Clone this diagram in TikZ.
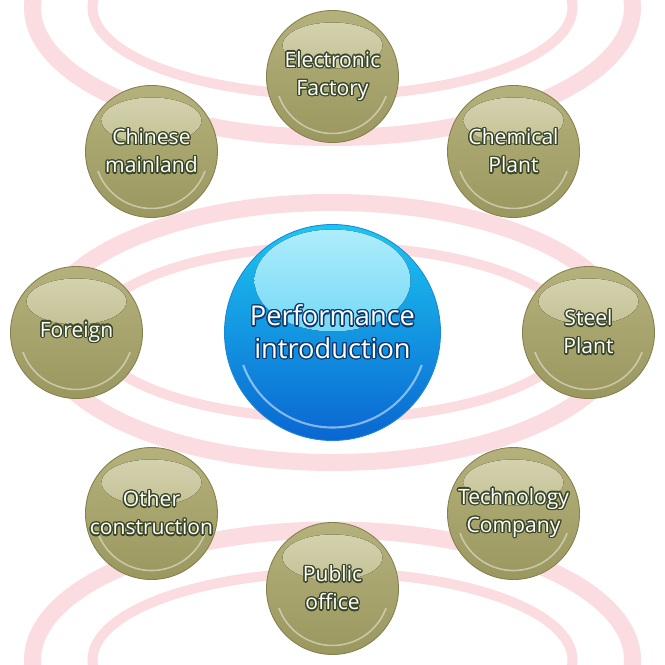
\documentclass[tikz,border=0pt]{standalone}
\usepackage{fontspec}
\setmainfont{Open Sans}
\usepackage{contour}
\contourlength{0.75pt}

\definecolor{olivetop}{HTML}{B4B17C}
\definecolor{olivebot}{HTML}{9A975F}
\definecolor{olivehi}{HTML}{D8D6B4}
\definecolor{olivemid}{HTML}{ABA871}
\definecolor{oliveline}{HTML}{84814D}
\definecolor{olivetext}{HTML}{3A4828}
\definecolor{bluetop}{HTML}{1CC6F0}
\definecolor{bluebot}{HTML}{0A66D2}
\definecolor{bluehi}{HTML}{B0EEFC}
\definecolor{bluemid}{HTML}{3AC2EE}
\definecolor{blueline}{HTML}{1A88D8}
\definecolor{bluetext}{HTML}{0C3C74}
\definecolor{wmpink}{HTML}{FBDCE0}

\begin{document}
\begin{tikzpicture}[
        bubble/.style={circle, draw=oliveline, line width=0.5pt, minimum size=2.64cm, inner sep=0pt, align=center,
            top color=olivetop, bottom color=olivebot, text=white, font=\fontsize{12}{16}\selectfont,
            path picture={
                \fill[top color=olivehi, bottom color=olivemid] ([yshift=0.62cm]path picture bounding box.center) ellipse (1cm and 0.46cm);
                \draw[white, opacity=0.45, line width=0.9pt] ([shift={(200:1.14cm)}]path picture bounding box.center) arc (200:340:1.14cm);
            }},
        hub/.style={circle, draw=blueline, line width=0.5pt, minimum size=4.32cm, inner sep=0pt, align=center,
            top color=bluetop, bottom color=bluebot, text=white, font=\fontsize{15.5}{18.5}\selectfont,
            path picture={
                \fill[top color=bluehi, bottom color=bluemid] ([yshift=1.04cm]path picture bounding box.center) ellipse (1.56cm and 1.02cm);
                \draw[white, opacity=0.5, line width=1.2pt] ([shift={(200:1.9cm)}]path picture bounding box.center) arc (200:340:1.9cm);
            }},
        wmouter/.style={draw=wmpink, line width=0.34cm},
        wminner/.style={draw=wmpink, line width=0.2cm}
    ]
        \useasboundingbox (-6.65,-6.65) rectangle (6.65,6.65);
        \clip (-6.65,-6.65) rectangle (6.65,6.65);

        % background logo rings
        \draw[wmouter] (0,6.5) ellipse (6cm and 2.6cm);
        \draw[wminner] (0,6.5) ellipse (4.8cm and 1.75cm);
        \draw[wmouter] (0,0) ellipse (5.8cm and 2.6cm);
        \draw[wminner] (0,0) ellipse (4.8cm and 1.72cm);
        \draw[wmouter] (0,-6.55) ellipse (6cm and 2.6cm);
        \draw[wminner] (0,-6.55) ellipse (4.8cm and 1.75cm);

        \node[hub] (perf) at (0,0) {\contour{bluetext}{Performance}\\\contour{bluetext}{introduction}};

        \node[bubble] (electronic) at (90:5.12) {\contour{olivetext}{Electronic}\\\contour{olivetext}{Factory}};
        \node[bubble] (chemical) at (45:5.12) {\contour{olivetext}{Chemical}\\\contour{olivetext}{Plant}};
        \node[bubble] (steel) at (0:5.12) {\contour{olivetext}{Steel}\\\contour{olivetext}{Plant}};
        \node[bubble] (technology) at (-45:5.12) {\contour{olivetext}{Technology}\\\contour{olivetext}{Company}};
        \node[bubble] (public) at (-90:5.12) {\contour{olivetext}{Public}\\\contour{olivetext}{office}};
        \node[bubble] (other) at (-135:5.12) {\contour{olivetext}{Other}\\\contour{olivetext}{construction}};
        \node[bubble] (foreign) at (180:5.12) {\contour{olivetext}{Foreign}};
        \node[bubble] (chinese) at (135:5.12) {\contour{olivetext}{Chinese}\\\contour{olivetext}{mainland}};
    \end{tikzpicture}
\end{document}
